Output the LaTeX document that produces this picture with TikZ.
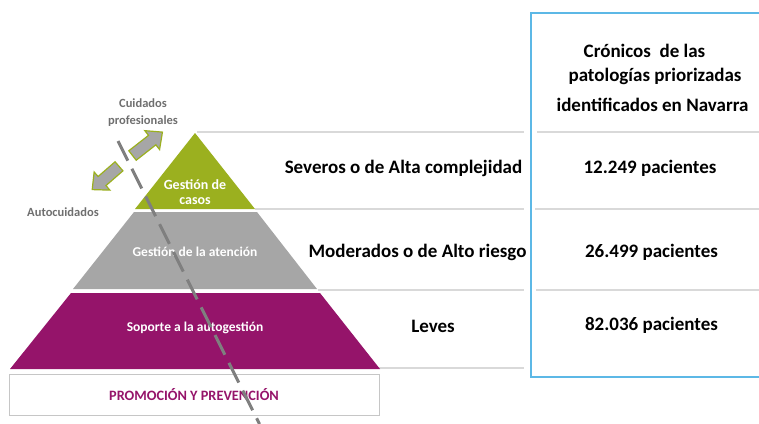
\documentclass[tikz,border=0pt]{standalone}
\usepackage{fontspec}
\setmainfont{Carlito}
\definecolor{pgreen}{HTML}{9BB01F}
\definecolor{ppurple}{HTML}{95146A}
\definecolor{pgray}{HTML}{A6A6A6}
\definecolor{lgray}{HTML}{D9D9D9}
\definecolor{dgray}{HTML}{7F7F7F}
\definecolor{tgray}{HTML}{6F6F6F}
\definecolor{bblue}{HTML}{5CB8E6}
\begin{document}
\begin{tikzpicture}[x=1pt,y=-1pt,
  tier/.style={font=\bfseries\fontsize{13.5}{16}\selectfont, text=white, inner sep=0, align=center},
  lbl/.style={font=\bfseries\fontsize{19}{23}\selectfont, inner sep=0},
  side/.style={font=\bfseries\fontsize{12.5}{17}\selectfont, text=tgray, align=center, inner sep=0},
  sepline/.style={lgray, line width=2pt},
  blockarrow/.style={draw=pgreen, fill=pgray, line width=1.2pt, line join=miter}]
\useasboundingbox (0,0) rectangle (759,423);
% separator lines
\draw[sepline] (197,132) -- (524,132);
\draw[sepline] (255,209) -- (524,209);
\draw[sepline] (318,290) -- (524,290);
\draw[sepline] (378,368) -- (524,368);
\draw[sepline] (537,132) -- (759,132);
\draw[sepline] (535,209) -- (759,209);
\draw[sepline] (536,290) -- (759,290);
% blue table frame
\draw[bblue, line width=1.2pt] (759,13) -- (531,13) -- (531,377) -- (759,377);
% pyramid
\fill[pgreen] (195,133) -- (255,209) -- (135,209) -- cycle;
\fill[pgray] (134,212) -- (257,212) -- (317,289) -- (73,289) -- cycle;
\fill[ppurple] (71,293) -- (320,293) -- (380,369) -- (10,369) -- cycle;
\draw[gray!45, line width=1pt] (9,374) rectangle (379,415);
% tier texts
\node[tier, font=\bfseries\fontsize{14}{15.5}\selectfont] (casos) at (195,192) {Gestión de\\casos};
\node[tier] (atencion) at (195,252) {Gestión de la atención};
\node[tier] (soporte) at (195,328) {Soporte a la autogestión};
\node[tier, text=ppurple, font=\bfseries\fontsize{14.3}{16}\selectfont] (promo) at (194,395) {PROMOCIÓN Y PREVENCIÓN};
% side labels
\node[side] (prof) at (143,113) {Cuidados\\profesionales};
\node[side] (auto) at (63,212) {Autocuidados};
% arrows (two halves of a double arrow)
\begin{scope}[shift={(132.5,155.5)}, rotate=38]
  \draw[blockarrow] (0,-6) -- (25,-6) -- (25,-12) -- (38,0) -- (25,12) -- (25,6) -- (0,6) -- cycle;
\end{scope}
\begin{scope}[shift={(119,166.3)}, rotate=221]
  \draw[blockarrow] (0,-6) -- (22.5,-6) -- (22.5,-12) -- (35.5,0) -- (22.5,12) -- (22.5,6) -- (0,6) -- cycle;
\end{scope}
% dashed divider
\draw[dgray, line width=3pt, dash pattern=on 22pt off 9pt] (118,141) -- (259.5,424);
% middle labels
\node[lbl] (sev) at (403.5,168) {Severos o de Alta complejidad};
\node[lbl] (mod) at (417.5,252) {Moderados o de Alto riesgo};
\node[lbl] (lev) at (433,326) {Leves};
% right column
\node[lbl] (h1) at (644.5,51) {Crónicos\ \ de las};
\node[lbl] (h2) at (655,76) {patologías priorizadas};
\node[lbl] (h3) at (652.5,105) {identificados en Navarra};
\node[lbl] (n1) at (650,168) {12.249 pacientes};
\node[lbl] (n2) at (651.5,252) {26.499 pacientes};
\node[lbl] (n3) at (651.5,325) {82.036 pacientes};
\end{tikzpicture}
\end{document}
